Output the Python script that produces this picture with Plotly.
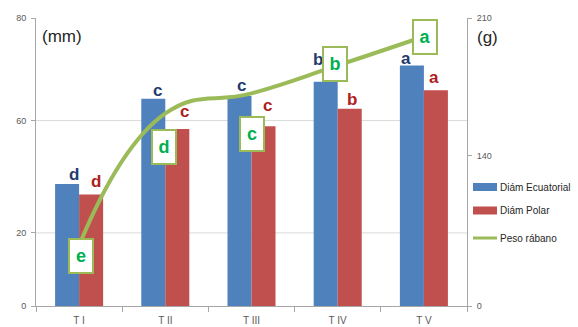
import plotly.graph_objects as go

# Treatments and measured values
treatments = ["T I", "T II", "T III", "T IV", "T V"]
diam_ecuatorial = [33.9, 57.6, 58.3, 62.3, 66.8]   # mm
diam_polar = [31.0, 49.2, 49.9, 54.8, 59.9]        # mm
peso_rabano = [44.1, 140.4, 155.0, 175.4, 196.5]   # g

# Significance letters
letras_ecuatorial = ["d", "c", "c", "b", "a"]
letras_polar = ["d", "c", "c", "b", "a"]
letras_peso = ["e", "d", "c", "b", "a"]

# Axis tick labels
mm_tick_text = ["0", "20", "60", "80"]
g_tick_text = ["0", "140", "210"]

# Layout geometry (pixels)
W, H = 578, 327
ML, MR, MT, MB = 36, 111, 18, 21
PW, PH = W - ML - MR, H - MT - MB

# tick placement along each axis
mm_tick_pos = [0, 20.3, 51.5, 80]
g_tick_pos = [0, 109.7, 210]

# label nudges (dx px, gap px above bar)
nudge_ec = [(7, 2), (4.5, 1), (1.5, 3), (-8, 15), (-5.5, 0)]
nudge_po = [(5, 5), (7, 10), (3.5, 13), (2.5, 2), (-2, 5)]
# box offsets from the line points (dx px, dy px; +dy is up)
nudge_box = [(1.5, -10), (-1.5, -33.5), (0.5, -41), (-2.5, 1.5), (1, 0)]

BLUE = "#4F81BD"
RED = "#C0504D"
GREEN = "#9BBB59"
AXIS = "#A6A6A6"
TXT = "#595959"
FONT = "Liberation Sans"


def px_x(p):
    return (p - ML) / PW


def px_y(p):
    return (H - MB - p) / PH


fig = go.Figure()
fig.add_trace(go.Bar(x=treatments, y=diam_ecuatorial, name="Diám Ecuatorial",
                     marker=dict(color=BLUE, line=dict(width=0)), showlegend=False))
fig.add_trace(go.Bar(x=treatments, y=diam_polar, name="Diám Polar",
                     marker=dict(color=RED, line=dict(width=0)), showlegend=False))
fig.add_trace(go.Scatter(x=treatments, y=peso_rabano, name="Peso rábano", yaxis="y2",
                         mode="lines", line=dict(color=GREEN, width=4, shape="spline", smoothing=1.3),
                         showlegend=False))

annotations = []
bar_half = 12
for i, t in enumerate(treatments):
    dx, gap = nudge_ec[i]
    annotations.append(dict(x=t, y=diam_ecuatorial[i], xref="x", yref="y", text=letras_ecuatorial[i],
                            showarrow=False, xshift=-bar_half + dx, yshift=gap - 4, yanchor="bottom",
                            font=dict(family=FONT, size=17, color="#1F3C6E", weight="bold")))
    dx, gap = nudge_po[i]
    annotations.append(dict(x=t, y=diam_polar[i], xref="x", yref="y", text=letras_polar[i],
                            showarrow=False, xshift=bar_half + dx, yshift=gap - 4, yanchor="bottom",
                            font=dict(family=FONT, size=17, color="#B01E1E", weight="bold")))
    dx, dy = nudge_box[i]
    annotations.append(dict(x=t, y=peso_rabano[i], xref="x", yref="y2", text=letras_peso[i],
                            showarrow=False, xshift=dx, yshift=dy, width=20, height=30,
                            bgcolor="white", bordercolor=GREEN, borderwidth=2, borderpad=1,
                            font=dict(family=FONT, size=18, color="#00B050", weight="bold")))

# unit labels
annotations.append(dict(x=px_x(61.5), y=px_y(36), xref="paper", yref="paper", text="(mm)",
                        xanchor="center", yanchor="middle", showarrow=False,
                        font=dict(family=FONT, size=17, color="#262626")))
annotations.append(dict(x=px_x(487.5), y=px_y(37), xref="paper", yref="paper", text="(g)",
                        xanchor="center", yanchor="middle", showarrow=False,
                        font=dict(family=FONT, size=17, color="#262626")))

# legend drawn as swatches + text
shapes = []
legend_rows = [("Diám Ecuatorial", BLUE, 187), ("Diám Polar", RED, 210.5), ("Peso rábano", GREEN, 238)]
for name, col, yc in legend_rows:
    if col == GREEN:
        shapes.append(dict(type="line", xref="paper", yref="paper", x0=px_x(473), x1=px_x(497),
                           y0=px_y(yc), y1=px_y(yc), line=dict(color=col, width=3)))
    else:
        shapes.append(dict(type="rect", xref="paper", yref="paper", x0=px_x(473), x1=px_x(497),
                           y0=px_y(yc + 4), y1=px_y(yc - 4), fillcolor=col, line=dict(width=0)))
    annotations.append(dict(x=px_x(497.5), y=px_y(yc), xref="paper", yref="paper", text=name,
                            showarrow=False, xanchor="left", yanchor="middle",
                            font=dict(family=FONT, size=10, color="#262626")))

# horizontal gridlines at inner ticks
for v in mm_tick_pos[1:-1]:
    shapes.append(dict(type="line", xref="paper", yref="y", x0=0, x1=1, y0=v, y1=v,
                       line=dict(color="#D9D9D9", width=1), layer="below"))

fig.update_layout(
    width=W, height=H,
    margin=dict(l=ML, r=MR, t=MT, b=MB, pad=0, autoexpand=False),
    paper_bgcolor="white", plot_bgcolor="white",
    barmode="group", bargap=0.443, bargroupgap=0,
    font=dict(family=FONT, size=10, color=TXT),
    xaxis=dict(type="category", showline=True, linecolor=AXIS, linewidth=1, automargin=False,
               ticks="outside", tickson="boundaries", ticklen=5, tickcolor=AXIS,
               ticklabelstandoff=5, tickfont=dict(size=10, color=TXT), showgrid=False),
    yaxis=dict(range=[0, 80], tickvals=mm_tick_pos, ticktext=mm_tick_text, showgrid=False,
               automargin=False,
               showline=True, linecolor=AXIS, linewidth=1, ticks="outside", ticklen=4,
               tickcolor=AXIS, ticklabelstandoff=3, tickfont=dict(size=9, color=TXT), zeroline=False),
    yaxis2=dict(range=[0, 210], tickvals=g_tick_pos, ticktext=g_tick_text, overlaying="y",
                side="right", showgrid=False, showline=True, linecolor=AXIS, linewidth=1,
                automargin=False,
                ticks="outside", ticklen=4, tickcolor=AXIS, ticklabelstandoff=3,
                tickfont=dict(size=9, color=TXT), zeroline=False),
    shapes=shapes,
    annotations=annotations,
)

fig.write_html("out.html")
